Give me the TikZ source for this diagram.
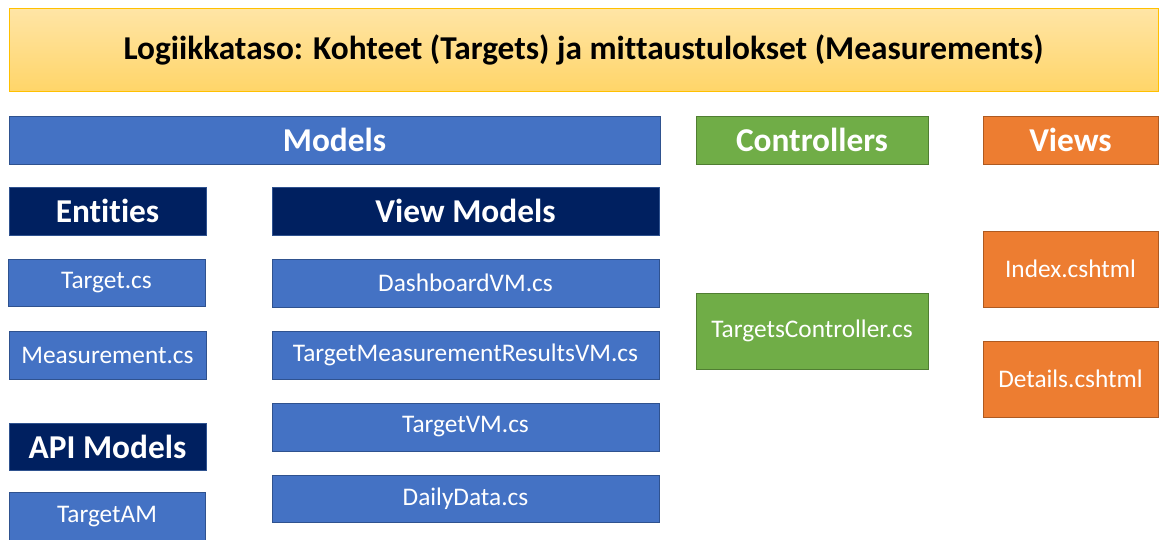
\documentclass[tikz,border=0pt]{standalone}
\usepackage{fontspec}
\setmainfont{Carlito}[Ligatures=NoCommon]
\usepackage{tikz}

\definecolor{titletop}{RGB}{255,229,166}
\definecolor{titlebot}{RGB}{255,213,105}
\definecolor{titleline}{RGB}{255,192,0}
\definecolor{modelblue}{RGB}{68,114,196}
\definecolor{bluelinec}{RGB}{47,82,143}
\definecolor{navyfill}{RGB}{0,32,96}
\definecolor{ctrlgreen}{RGB}{112,173,71}
\definecolor{greenlinec}{RGB}{80,126,50}
\definecolor{vieworange}{RGB}{237,125,49}
\definecolor{orangelinec}{RGB}{174,90,33}

\tikzset{
  box/.style={rectangle, inner sep=0pt, line width=0.6pt, text=white},
  bluebox/.style={box, fill=modelblue, draw=bluelinec, font=\fontsize{19}{22}\selectfont},
  navybox/.style={box, fill=navyfill, draw=bluelinec, font=\fontsize{25}{28}\bfseries},
  headbox/.style={box, font=\fontsize{25}{28}\bfseries},
}

\begin{document}
\begin{tikzpicture}[x=0.75pt,y=0.75pt,yscale=-1,xscale=1]
\useasboundingbox (0,0) rectangle (1162,539);

% Title bar
\node [rectangle, inner sep=0pt, top color=titletop, bottom color=titlebot, draw=titleline, line width=0.6pt,
  minimum width=0.75*1149pt, minimum height=0.75*83pt, font=\fontsize{25}{28}\bfseries] (title) at (583.5,49.5)
  {Logiikkataso: Kohteet (Targets) ja mittaustulokset (Measurements)};

% Column headers
\node [headbox, fill=modelblue, draw=bluelinec, minimum width=0.75*651pt, minimum height=0.75*48pt] (models) at (334.5,140) {Models};
\node [headbox, fill=ctrlgreen, draw=greenlinec, minimum width=0.75*232pt, minimum height=0.75*48pt] (controllers) at (812,140) {Controllers};
\node [headbox, fill=vieworange, draw=orangelinec, minimum width=0.75*175pt, minimum height=0.75*48pt] (views) at (1070.5,140) {Views};

% Models: sub headers
\node [navybox, minimum width=0.75*197pt, minimum height=0.75*48pt] (entities) at (107.5,211) {Entities};
\node [navybox, minimum width=0.75*387pt, minimum height=0.75*48pt] (viewmodels) at (465.5,211) {View Models};
\node [navybox, minimum width=0.75*197pt, minimum height=0.75*47pt] (apimodels) at (107.5,446.5) {API Models};

% Entities
\node [bluebox, minimum width=0.75*197pt, minimum height=0.75*47pt] (target) at (106.5,282.5) {Target.cs};
\node [bluebox, minimum width=0.75*197pt, minimum height=0.75*48pt] (measurement) at (107.5,355) {Measurement.cs};

% API models
\node [bluebox, minimum width=0.75*196pt, minimum height=0.75*50pt] (targetam) at (107,517) {TargetAM};

% View models
\node [bluebox, minimum width=0.75*387pt, minimum height=0.75*48pt] (dashboardvm) at (465.5,283) {DashboardVM.cs};
\node [bluebox, minimum width=0.75*387pt, minimum height=0.75*48pt] (tmrvm) at (465.5,355) {TargetMeasurementResultsVM.cs};
\node [bluebox, minimum width=0.75*387pt, minimum height=0.75*48pt] (targetvm) at (465.5,427) {TargetVM.cs};
\node [bluebox, minimum width=0.75*387pt, minimum height=0.75*47pt] (dailydata) at (465.5,498.5) {DailyData.cs};

% Controllers
\node [bluebox, fill=ctrlgreen, draw=greenlinec, minimum width=0.75*232pt, minimum height=0.75*76pt] (targetsctrl) at (812,331) {TargetsController.cs};

% Views
\node [bluebox, fill=vieworange, draw=orangelinec, minimum width=0.75*175pt, minimum height=0.75*76pt] (index) at (1070.5,269) {Index.cshtml};
\node [bluebox, fill=vieworange, draw=orangelinec, minimum width=0.75*175pt, minimum height=0.75*76pt] (details) at (1070.5,379) {Details.cshtml};

\end{tikzpicture}
\end{document}
